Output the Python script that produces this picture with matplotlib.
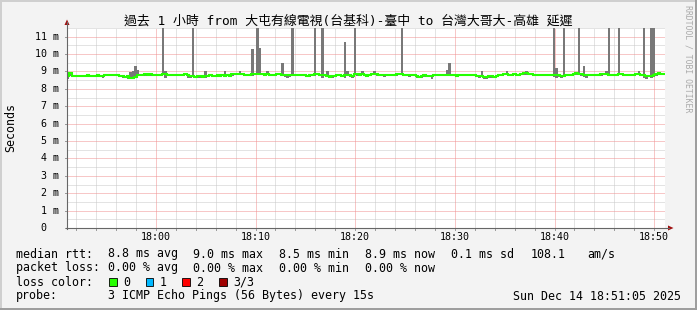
import numpy as np
import matplotlib
matplotlib.use("Agg")
import matplotlib.pyplot as plt
from matplotlib.lines import Line2D
from matplotlib.patches import Polygon, Rectangle

# ---------------- data ----------------
title = "過去 1 小時 from 大屯有線電視(台基科)-臺中 to 台灣大哥大-高雄 延遲"
t_start = 51.0833   # minutes after 17:00  (17:51:05)
t_step = 0.25       # 15 s
n_steps = 240

median_ms = [
    8.76, 8.90, 8.74, 8.74, 8.74, 8.76, 8.74, 8.76, 8.78, 8.76,
    8.74, 8.76, 8.78, 8.76, 8.74, 8.78, 8.80, 8.80, 8.78, 8.80,
    8.80, 8.76, 8.72, 8.70, 8.72, 8.64, 8.62, 8.70, 8.80, 8.78,
    8.82, 8.83, 8.82, 8.83, 8.80, 8.80, 8.78, 8.80, 8.85, 8.86,
    8.82, 8.78, 8.80, 8.80, 8.78, 8.80, 8.80, 8.85, 8.80, 8.72,
    8.74, 8.70, 8.72, 8.74, 8.70, 8.72, 8.76, 8.78, 8.76, 8.76,
    8.78, 8.76, 8.78, 8.76, 8.78, 8.76, 8.84, 8.86, 8.85, 8.86,
    8.84, 8.82, 8.80, 8.82, 8.86, 8.84, 8.88, 8.86, 8.84, 8.82,
    8.84, 8.80, 8.82, 8.80, 8.84, 8.86, 8.82, 8.80, 8.82, 8.80,
    8.80, 8.82, 8.80, 8.80, 8.82, 8.80, 8.76, 8.78, 8.80, 8.84,
    8.86, 8.82, 8.78, 8.80, 8.76, 8.70, 8.72, 8.76, 8.78, 8.80,
    8.76, 8.78, 8.80, 8.78, 8.76, 8.84, 8.84, 8.82, 8.84, 8.80,
    8.76, 8.82, 8.88, 8.86, 8.84, 8.80, 8.80, 8.78, 8.80, 8.80,
    8.82, 8.80, 8.84, 8.88, 8.86, 8.82, 8.80, 8.80, 8.82, 8.80,
    8.72, 8.70, 8.74, 8.78, 8.76, 8.74, 8.76, 8.80, 8.80, 8.78,
    8.82, 8.80, 8.78, 8.80, 8.82, 8.80, 8.76, 8.78, 8.80, 8.80,
    8.82, 8.80, 8.78, 8.80, 8.76, 8.72, 8.74, 8.68, 8.66, 8.72,
    8.74, 8.70, 8.76, 8.80, 8.82, 8.84, 8.84, 8.80, 8.82, 8.84,
    8.82, 8.82, 8.84, 8.90, 8.90, 8.86, 8.84, 8.80, 8.80, 8.82,
    8.80, 8.80, 8.80, 8.78, 8.80, 8.82, 8.80, 8.78, 8.76, 8.76,
    8.80, 8.78, 8.80, 8.84, 8.90, 8.86, 8.84, 8.80, 8.78, 8.80,
    8.78, 8.80, 8.80, 8.80, 8.84, 8.86, 8.84, 8.80, 8.80, 8.80,
    8.82, 8.84, 8.86, 8.80, 8.80, 8.82, 8.80, 8.80, 8.88, 8.86,
    8.82, 8.80, 8.74, 8.76, 8.72, 8.78, 8.84, 8.90, 8.88, 8.86,
]

smoke_hi_ms = [
    8.82, 8.94, 8.80, 8.79, 8.80, 8.82, 8.79, 8.81, 8.84, 8.81,
    8.80, 8.82, 8.84, 8.81, 8.80, 8.84, 8.86, 8.85, 8.83, 8.86,
    8.86, 8.82, 8.78, 8.76, 8.80, 8.98, 9.05, 9.30, 9.10, 8.84,
    8.88, 8.88, 8.87, 8.89, 8.86, 8.85, 8.84, 8.86, 13.0, 9.05,
    8.88, 8.84, 8.86, 8.85, 8.84, 8.86, 8.86, 8.90, 8.86, 8.78,
    13.0, 8.76, 8.78, 8.80, 8.76, 9.00, 8.82, 8.84, 8.82, 8.82,
    8.84, 8.82, 8.84, 9.00, 8.84, 8.82, 8.90, 8.92, 8.90, 9.00,
    8.90, 8.88, 8.86, 8.88, 10.30, 8.90, 13.0, 10.35, 8.90, 8.88,
    9.00, 8.86, 8.88, 8.86, 8.90, 8.92, 9.50, 8.86, 8.88, 8.86,
    13.0, 8.88, 8.86, 8.86, 8.88, 8.86, 8.82, 8.84, 8.86, 13.0,
    8.92, 8.88, 13.0, 8.86, 9.00, 8.76, 8.78, 8.82, 8.84, 8.86,
    8.82, 10.70, 9.05, 8.84, 8.82, 13.0, 8.90, 8.88, 9.00, 8.86,
    8.82, 8.88, 8.94, 9.05, 8.90, 8.86, 8.86, 8.84, 8.86, 8.86,
    8.88, 8.86, 8.90, 8.94, 13.0, 8.88, 8.86, 8.86, 8.88, 8.86,
    8.78, 8.76, 8.80, 8.84, 8.82, 8.80, 8.82, 8.86, 8.86, 8.84,
    8.88, 8.86, 9.10, 9.50, 8.88, 8.86, 8.82, 8.84, 8.86, 8.86,
    8.88, 8.86, 8.84, 8.86, 8.82, 8.78, 9.00, 8.74, 8.72, 8.78,
    8.80, 8.76, 8.82, 8.86, 8.88, 8.90, 9.05, 8.86, 8.88, 8.90,
    8.88, 8.88, 8.90, 8.96, 9.00, 8.92, 8.90, 8.86, 8.86, 8.88,
    8.86, 8.86, 8.86, 8.84, 8.86, 13.0, 9.20, 8.84, 8.82, 13.0,
    8.86, 8.84, 8.86, 8.90, 8.96, 13.0, 8.90, 9.30, 8.84, 8.86,
    8.84, 8.86, 8.86, 8.86, 8.90, 8.92, 9.00, 13.0, 8.86, 8.86,
    8.88, 13.0, 8.92, 8.86, 8.86, 8.88, 8.86, 8.86, 8.94, 9.05,
    8.88, 13.0, 8.80, 8.82, 13.0, 13.0, 8.90, 8.96, 8.94, 8.92,
]

smoke_lo_ms = [
    8.58, 8.74, 8.68, 8.68, 8.69, 8.70, 8.68, 8.70, 8.72, 8.70,
    8.68, 8.70, 8.72, 8.68, 8.64, 8.72, 8.74, 8.74, 8.72, 8.74,
    8.74, 8.70, 8.64, 8.62, 8.55, 8.56, 8.54, 8.60, 8.72, 8.72,
    8.76, 8.76, 8.76, 8.76, 8.74, 8.74, 8.72, 8.74, 8.78, 8.62,
    8.76, 8.72, 8.74, 8.74, 8.72, 8.74, 8.74, 8.78, 8.60, 8.64,
    8.66, 8.62, 8.64, 8.60, 8.62, 8.64, 8.70, 8.72, 8.66, 8.70,
    8.72, 8.70, 8.72, 8.70, 8.72, 8.70, 8.76, 8.80, 8.78, 8.80,
    8.78, 8.76, 8.74, 8.76, 8.72, 8.78, 8.80, 8.78, 8.78, 8.76,
    8.78, 8.74, 8.76, 8.72, 8.78, 8.80, 8.76, 8.70, 8.60, 8.66,
    8.74, 8.76, 8.74, 8.74, 8.76, 8.74, 8.66, 8.70, 8.74, 8.76,
    8.78, 8.74, 8.62, 8.74, 8.66, 8.62, 8.62, 8.68, 8.72, 8.74,
    8.70, 8.64, 8.74, 8.70, 8.62, 8.78, 8.76, 8.76, 8.78, 8.74,
    8.70, 8.76, 8.80, 8.78, 8.76, 8.72, 8.74, 8.70, 8.74, 8.74,
    8.76, 8.74, 8.76, 8.80, 8.78, 8.76, 8.74, 8.66, 8.76, 8.74,
    8.64, 8.62, 8.60, 8.70, 8.68, 8.66, 8.56, 8.72, 8.74, 8.72,
    8.76, 8.74, 8.72, 8.74, 8.76, 8.74, 8.68, 8.72, 8.74, 8.74,
    8.76, 8.74, 8.72, 8.74, 8.66, 8.62, 8.66, 8.56, 8.56, 8.60,
    8.64, 8.60, 8.70, 8.74, 8.76, 8.78, 8.78, 8.74, 8.76, 8.78,
    8.76, 8.76, 8.78, 8.82, 8.82, 8.80, 8.78, 8.74, 8.74, 8.76,
    8.74, 8.74, 8.74, 8.72, 8.74, 8.70, 8.64, 8.66, 8.60, 8.70,
    8.74, 8.72, 8.74, 8.78, 8.82, 8.80, 8.76, 8.70, 8.62, 8.74,
    8.72, 8.74, 8.74, 8.74, 8.76, 8.80, 8.78, 8.74, 8.74, 8.74,
    8.76, 8.78, 8.80, 8.74, 8.74, 8.76, 8.74, 8.74, 8.80, 8.80,
    8.76, 8.62, 8.58, 8.66, 8.62, 8.68, 8.76, 8.82, 8.82, 8.80,
]

y_ticks = [0, 1, 2, 3, 4, 5, 6, 7, 8, 9, 10, 11]
y_tick_labels = [" 0  ", " 1 m", " 2 m", " 3 m", " 4 m", " 5 m", " 6 m",
                 " 7 m", " 8 m", " 9 m", "10 m", "11 m"]
x_ticks = [60, 70, 80, 90, 100, 110]
x_tick_labels = ["18:00", "18:10", "18:20", "18:30", "18:40", "18:50"]

legend_rows = [
    [(16, "median rtt:"), (107.6, "8.8 ms avg"), (193, "9.0 ms max"), (279, "8.5 ms min"),
     (365, "8.9 ms now"), (451, "0.1 ms sd"), (531, "108.1"), (587.6, "am/s")],
    [(16, "packet loss:"), (107.6, "0.00 % avg"), (193, "0.00 % max"), (279, "0.00 % min"),
     (365, "0.00 % now")],
]
loss_labels = ["0", "1", "2", "3/3"]
loss_colors = ["#26ff00", "#00b8ff", "#ff0000", "#a00000"]
probe_text = "3 ICMP Echo Pings (56 Bytes) every 15s"
date_text = "Sun Dec 14 18:51:05 2025"

# ---------------- figure ----------------
W, H = 697, 310
fig = plt.figure(figsize=(W / 100, H / 100), dpi=100, facecolor="#f3f3f3")

def fx(px):
    return px / W

def fy(py):
    return 1 - py / H

# canvas shading border
fig.add_artist(Rectangle((0, fy(2)), 1, fy(0) - fy(2), transform=fig.transFigure, color="#cfcfcf", lw=0))
fig.add_artist(Rectangle((0, 0), fx(2), 1, transform=fig.transFigure, color="#cfcfcf", lw=0))
fig.add_artist(Rectangle((0, 0), 1, fy(308), transform=fig.transFigure, color="#9e9e9e", lw=0))
fig.add_artist(Rectangle((fx(695), 0), fx(2), 1, transform=fig.transFigure, color="#9e9e9e", lw=0))

PL, PR, PT, PB = 67, 665, 28, 228
ax = fig.add_axes([fx(PL), fy(PB), fx(PR - PL), (PB - PT) / H])
ax.set_facecolor("white")
t_end = t_start + t_step * n_steps
ax.set_xlim(t_start, t_end)
ax.set_ylim(0, 11.5)
for s in ax.spines.values():
    s.set_visible(False)
ax.set_xticks([])
ax.set_yticks([])

dot = (0, (1, 1))
# minor grid
for m in np.arange(52, 111, 2):
    if m % 10:
        ax.axvline(m, color="#c8c8c8", lw=0.72, ls=dot, zorder=1)
for v in np.arange(0.5, 11.6, 1.0):
    ax.axhline(v, color="#c8c8c8", lw=0.72, ls=dot, zorder=1)
# major grid
for m in x_ticks:
    ax.axvline(m, color="#f09090", lw=0.72, ls=dot, zorder=1.5)
for v in y_ticks[1:]:
    ax.axhline(v, color="#f09090", lw=0.72, ls=dot, zorder=1.5)

edges = t_start + t_step * np.arange(n_steps + 1)
lo = np.array(smoke_lo_ms)
hi = np.array(smoke_hi_ms)
ax.bar(edges[:-1], hi - lo, bottom=lo, width=t_step, align="edge",
       color="#787878", linewidth=0, zorder=2)
ax.stairs(median_ms, edges, baseline=None, color="#26ff00", lw=1.5, zorder=3)

mono = "DejaVu Sans Mono"
# y tick labels
for v, lab in zip(y_ticks, y_tick_labels):
    fig.text(fx(35), fy(PB - v * (PB - PT) / 11.5), lab, family=mono, fontsize=7.2,
             ha="left", va="center", color="#000000")
    fig.add_artist(Line2D([fx(PL - 2), fx(PL)], [fy(PB - v * (PB - PT) / 11.5)] * 2,
                          color="#999999", lw=0.7))
# x tick labels
for m, lab in zip(x_ticks, x_tick_labels):
    ax.text(m, -9 / (PB - PT), lab, transform=ax.get_xaxis_transform(), family=mono,
            fontsize=7.2, ha="center", va="center", color="#000000")
for m in np.arange(52, 111, 2):
    xp = PL + (m - t_start) / (t_end - t_start) * (PR - PL)
    fig.add_artist(Line2D([fx(xp), fx(xp)], [fy(PB), fy(PB + 2)], color="#999999", lw=0.7))

# axes lines + arrows
fig.add_artist(Line2D([fx(PL), fx(PL)], [fy(PB + 1), fy(22)], color="#666666", lw=0.8))
fig.add_artist(Line2D([fx(PL - 1), fx(669)], [fy(PB), fy(PB)], color="#666666", lw=0.8))
fig.add_artist(Polygon([[fx(64.5), fy(25)], [fx(69.5), fy(25)], [fx(67), fy(19.5)]],
                       closed=True, transform=fig.transFigure, color="#a01010", lw=0))
fig.add_artist(Polygon([[fx(668), fy(225.5)], [fx(668), fy(230.5)], [fx(673.5), fy(228)]],
                       closed=True, transform=fig.transFigure, color="#a01010", lw=0))

# title
fig.text(fx(348), fy(21.5), title, family=[mono, "Noto Sans CJK TC"], fontsize=9.3,
         ha="center", va="center", color="#000000")
# y label
fig.text(fx(11), fy(128), "Seconds", family=mono, fontsize=8.4, rotation=90,
         ha="center", va="center", color="#000000")
# watermark
fig.text(fx(688), fy(5), "RRDTOOL / TOBI OETIKER", family=mono, fontsize=5.9,
         rotation=270, ha="center", va="top", color="#aaaaaa")

# legend
row_y = [254, 268, 282, 296]
for r, row in enumerate(legend_rows):
    for xp, txt in row:
        fig.text(fx(xp), fy(row_y[r]), txt, family=mono, fontsize=8.4, ha="left", va="center")
fig.text(fx(16), fy(row_y[2]), "loss color:", family=mono, fontsize=8.4, ha="left", va="center")
box_x = [109, 145.5, 182, 219]
for bx, lab, col in zip(box_x, loss_labels, loss_colors):
    fig.add_artist(Rectangle((fx(bx), fy(286)), fx(7.5), 8 / H, transform=fig.transFigure,
                             facecolor=col, edgecolor="#000000", lw=0.6))
    fig.text(fx(bx + 14), fy(row_y[2]), lab, family=mono, fontsize=8.4, ha="left", va="center")
fig.text(fx(16), fy(row_y[3]), "probe:", family=mono, fontsize=8.4, ha="left", va="center")
fig.text(fx(107.6), fy(row_y[3]), probe_text, family=mono, fontsize=8.4, ha="left", va="center")
fig.text(fx(681), fy(row_y[3]), date_text, family=mono, fontsize=8.4, ha="right", va="center")

fig.savefig("out.png", dpi=100, facecolor=fig.get_facecolor())
